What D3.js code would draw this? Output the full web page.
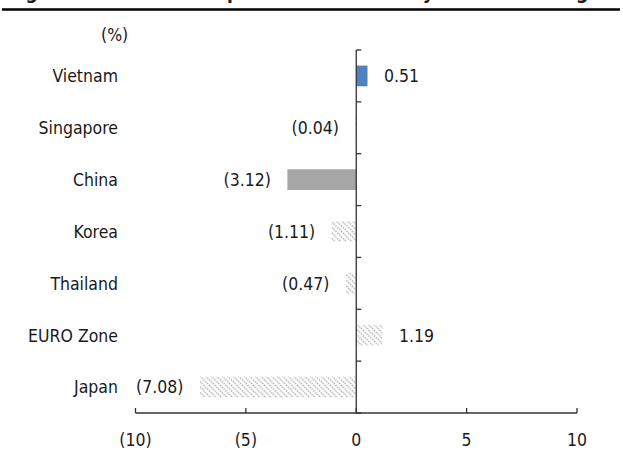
<!DOCTYPE html>
<html>
<head>
<meta charset="utf-8">
<script src="https://cdn.jsdelivr.net/npm/d3@7/dist/d3.min.js"></script>
<style>
  html, body { margin: 0; padding: 0; background: #fff; }
  svg { display: block; }
  text { font-family: "DejaVu Sans Condensed", "DejaVu Sans", sans-serif; font-stretch: condensed; fill: #1a1a1a; }
</style>
</head>
<body>
<svg id="chart" width="623" height="450"></svg>
<script>
// Change by economy, % (negative values shown in parentheses)
const categories = ["Vietnam", "Singapore", "China", "Korea", "Thailand", "EURO Zone", "Japan"];
const values = [0.51, -0.04, -3.12, -1.11, -0.47, 1.19, -7.08];
const fills = ["blue", "hatch", "grey", "hatch", "hatch", "hatch", "hatch"];
const xTicks = [-10, -5, 0, 5, 10];
const unitLabel = "(%)";
const title = "Figure 2: Inflation comparison at the end by market and region";

const svg = d3.select("#chart");

// hatch pattern for the comparison economies
const defs = svg.append("defs");
const pat = defs.append("pattern")
  .attr("id", "hatch")
  .attr("patternUnits", "userSpaceOnUse")
  .attr("width", 5.5).attr("height", 5.5);
pat.append("path")
  .attr("d", "M0,0 L5.5,5.5 M-1,4.5 L1,6.5 M4.5,-1 L6.5,1")
  .attr("stroke", "#ababab")
  .attr("stroke-width", 1.3)
  .attr("stroke-dasharray", "1.6,0.9");

const fillFor = { blue: "#4f81bd", grey: "#a6a6a6", hatch: "url(#hatch)" };

// title band clipped at the top edge, with its rule
svg.append("text")
  .attr("x", 8).attr("y", -1)
  .style("font-size", "19px").style("font-weight", "bold")
  .text(title);
svg.append("line")
  .attr("x1", 2).attr("x2", 620).attr("y1", 9.5).attr("y2", 9.5)
  .attr("stroke", "#000").attr("stroke-width", 2.5);

const x = d3.scaleLinear().domain([-10, 10]).range([135.5, 577]);
const y = d3.scaleBand().domain(categories).range([50, 413]).paddingInner(0.6).paddingOuter(0.3);
const band = d3.scaleBand().domain(categories).range([50, 413]);

const axisColor = "#333";
const fs = "17.5px";

// bars
svg.append("g").selectAll("rect")
  .data(categories)
  .join("rect")
  .attr("x", (d, i) => Math.min(x(0), x(values[i])))
  .attr("width", (d, i) => Math.abs(x(values[i]) - x(0)))
  .attr("y", d => y(d))
  .attr("height", y.bandwidth())
  .attr("fill", (d, i) => fillFor[fills[i]]);

// value labels
const fmt = v => v < 0 ? "(" + Math.abs(v).toFixed(2) + ")" : v.toFixed(2);
svg.append("g").selectAll("text")
  .data(categories)
  .join("text")
  .attr("x", (d, i) => values[i] < 0 ? x(values[i]) - 16.5 : x(values[i]) + 16.5)
  .attr("y", d => y(d) + y.bandwidth() / 2)
  .attr("dy", "0.36em")
  .attr("text-anchor", (d, i) => values[i] < 0 ? "end" : "start")
  .style("font-size", fs)
  .text((d, i) => fmt(values[i]));

// category labels
svg.append("g").selectAll("text")
  .data(categories)
  .join("text")
  .attr("x", 118)
  .attr("y", d => y(d) + y.bandwidth() / 2)
  .attr("dy", "0.36em")
  .attr("text-anchor", "end")
  .style("font-size", fs)
  .text(d => d);

// x axis
const xAxis = svg.append("g").attr("transform", "translate(0,413)");
xAxis.append("line")
  .attr("x1", x(-10)).attr("x2", x(10))
  .attr("stroke", axisColor).attr("stroke-width", 1.3);
xAxis.selectAll("line.tick")
  .data(xTicks)
  .join("line")
  .attr("class", "tick")
  .attr("x1", d => x(d)).attr("x2", d => x(d))
  .attr("y1", 0).attr("y2", -5)
  .attr("stroke", axisColor).attr("stroke-width", 1.3);
xAxis.selectAll("text")
  .data(xTicks)
  .join("text")
  .attr("x", d => x(d))
  .attr("y", 27)
  .attr("dy", "0.36em")
  .attr("text-anchor", "middle")
  .style("font-size", fs)
  .text(d => d < 0 ? "(" + Math.abs(d) + ")" : d);

// y axis at zero with ticks at category boundaries
const yAxis = svg.append("g").attr("transform", `translate(${x(0)},0)`);
yAxis.append("line")
  .attr("y1", 50).attr("y2", 413)
  .attr("stroke", axisColor).attr("stroke-width", 1.3);
const bounds = categories.map(c => band(c)).concat([413]);
yAxis.selectAll("line.tick")
  .data(bounds)
  .join("line")
  .attr("class", "tick")
  .attr("x1", 0).attr("x2", 5)
  .attr("y1", d => d).attr("y2", d => d)
  .attr("stroke", axisColor).attr("stroke-width", 1.3);

// unit label
svg.append("text")
  .attr("x", 101).attr("y", 35)
  .attr("dy", "0.36em")
  .style("font-size", fs)
  .text(unitLabel);
</script>
</body>
</html>
